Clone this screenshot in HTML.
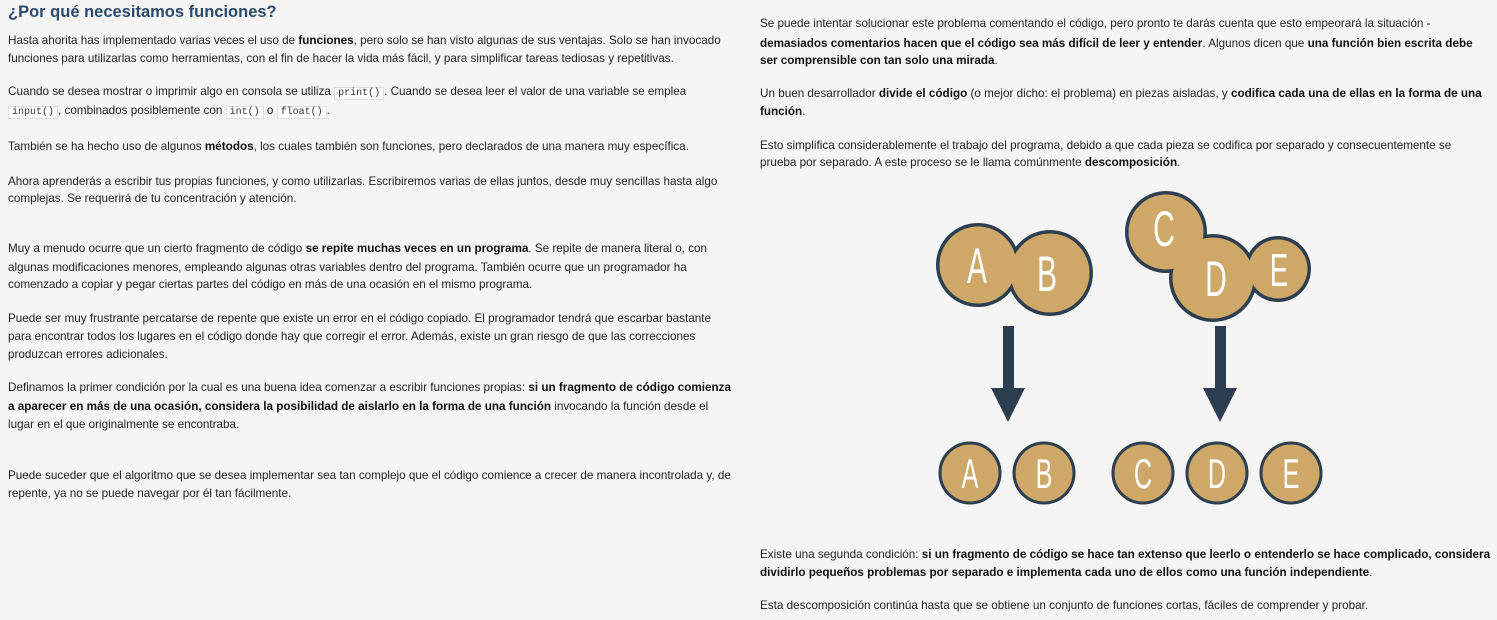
<!DOCTYPE html>
<html><head><meta charset="utf-8"><style>
body{margin:0;width:1497px;height:620px;background:#f5f5f5;overflow:hidden;font-family:"Liberation Sans",sans-serif;color:#222;}
.l{position:absolute;white-space:nowrap;font-size:11.7px;line-height:18px;}
b{font-weight:bold;color:#111}
code{font-family:"Liberation Mono",monospace;font-size:10px;background:#fff;border:1px solid #ddd;padding:0 3px;color:#333}
h1{position:absolute;left:8px;top:3px;margin:0;font-size:16.5px;color:#2b4a6b;font-weight:bold;white-space:nowrap}
</style></head><body>
<h1>¿Por qué necesitamos funciones?</h1>
<div class="l" style="left:8px;top:32px">Hasta ahorita has implementado varias veces el uso de <b>funciones</b>, pero solo se han visto algunas de sus ventajas. Solo se han invocado</div>
<div class="l" style="left:8px;top:50px">funciones para utilizarlas como herramientas, con el fin de hacer la vida más fácil, y para simplificar tareas tediosas y repetitivas.</div>
<div class="l" style="left:8px;top:83px">Cuando se desea mostrar o imprimir algo en consola se utiliza <code>print()</code>. Cuando se desea leer el valor de una variable se emplea</div>
<div class="l" style="left:8px;top:102px"><code>input()</code>, combinados posiblemente con <code>int()</code> o <code>float()</code>.</div>
<div class="l" style="left:8px;top:138px">También se ha hecho uso de algunos <b>métodos</b>, los cuales también son funciones, pero declarados de una manera muy específica.</div>
<div class="l" style="left:8px;top:173px">Ahora aprenderás a escribir tus propias funciones, y como utilizarlas. Escribiremos varias de ellas juntos, desde muy sencillas hasta algo</div>
<div class="l" style="left:8px;top:190px">complejas. Se requerirá de tu concentración y atención.</div>
<div class="l" style="left:8px;top:240px">Muy a menudo ocurre que un cierto fragmento de código <b>se repite muchas veces en un programa</b>. Se repite de manera literal o, con</div>
<div class="l" style="left:8px;top:259px">algunas modificaciones menores, empleando algunas otras variables dentro del programa. También ocurre que un programador ha</div>
<div class="l" style="left:8px;top:276px">comenzado a copiar y pegar ciertas partes del código en más de una ocasión en el mismo programa.</div>
<div class="l" style="left:8px;top:310px">Puede ser muy frustrante percatarse de repente que existe un error en el código copiado. El programador tendrá que escarbar bastante</div>
<div class="l" style="left:8px;top:328px">para encontrar todos los lugares en el código donde hay que corregir el error. Además, existe un gran riesgo de que las correcciones</div>
<div class="l" style="left:8px;top:346px">produzcan errores adicionales.</div>
<div class="l" style="left:8px;top:379px">Definamos la primer condición por la cual es una buena idea comenzar a escribir funciones propias: <b>si un fragmento de código comienza</b></div>
<div class="l" style="left:8px;top:398px"><b>a aparecer en más de una ocasión, considera la posibilidad de aislarlo en la forma de una función</b> invocando la función desde el</div>
<div class="l" style="left:8px;top:416px">lugar en el que originalmente se encontraba.</div>
<div class="l" style="left:8px;top:467px">Puede suceder que el algoritmo que se desea implementar sea tan complejo que el código comience a crecer de manera incontrolada y, de</div>
<div class="l" style="left:8px;top:485px">repente, ya no se puede navegar por él tan fácilmente.</div>

<div class="l" style="left:760px;top:15px">Se puede intentar solucionar este problema comentando el código, pero pronto te darás cuenta que esto empeorará la situación -</div>
<div class="l" style="left:760px;top:35px"><b>demasiados comentarios hacen que el código sea más difícil de leer y entender</b>. Algunos dicen que <b>una función bien escrita debe</b></div>
<div class="l" style="left:760px;top:52px"><b>ser comprensible con tan solo una mirada</b>.</div>
<div class="l" style="left:760px;top:85px">Un buen desarrollador <b>divide el código</b> (o mejor dicho: el problema) en piezas aisladas, y <b>codifica cada una de ellas en la forma de una</b></div>
<div class="l" style="left:760px;top:103px"><b>función</b>.</div>
<div class="l" style="left:760px;top:137px">Esto simplifica considerablemente el trabajo del programa, debido a que cada pieza se codifica por separado y consecuentemente se</div>
<div class="l" style="left:760px;top:154px">prueba por separado. A este proceso se le llama comúnmente <b>descomposición</b>.</div>
<div class="l" style="left:760px;top:546px">Existe una segunda condición: <b>si un fragmento de código se hace tan extenso que leerlo o entenderlo se hace complicado, considera</b></div>
<div class="l" style="left:760px;top:564px"><b>dividirlo pequeños problemas por separado e implementa cada uno de ellos como una función independiente</b>.</div>
<div class="l" style="left:760px;top:597px">Esta descomposición continúa hasta que se obtiene un conjunto de funciones cortas, fáciles de comprender y probar.</div>

<svg style="position:absolute;left:0;top:0" width="1497" height="620">
<g fill="#2c3e50">
<circle cx="978" cy="265" r="42"/><circle cx="1050" cy="273" r="43"/>
<circle cx="1166" cy="232" r="41"/><circle cx="1213" cy="278" r="44"/><circle cx="1278" cy="269" r="33"/>
</g>
<g fill="#cda869">
<circle cx="978" cy="265" r="38.5"/><circle cx="1050" cy="273" r="39.5"/>
<circle cx="1166" cy="232" r="37.5"/><circle cx="1213" cy="278" r="40.5"/><circle cx="1278" cy="269" r="29.5"/>
</g>
<g fill="#cda869" stroke="#2c3e50" stroke-width="3">
<circle cx="970" cy="473" r="30"/><circle cx="1044" cy="473" r="30"/>
<circle cx="1143" cy="473" r="30"/><circle cx="1217" cy="473" r="30"/><circle cx="1291" cy="473" r="30"/>
</g>
<g fill="#2c3e50">
<rect x="1003" y="326" width="11" height="64"/><polygon points="991,388 1025,388 1008,422"/>
<rect x="1215" y="326" width="11" height="64"/><polygon points="1203,388 1237,388 1220,422"/>
</g>
<g fill="#fff" font-family="Liberation Sans, sans-serif" text-anchor="middle">
<text transform="translate(977,283) scale(0.6,1)" font-size="50">A</text>
<text transform="translate(1047,291) scale(0.6,1)" font-size="50">B</text>
<text transform="translate(1164,246) scale(0.6,1)" font-size="50">C</text>
<text transform="translate(1216,296) scale(0.6,1)" font-size="50">D</text>
<text transform="translate(1279,286) scale(0.6,1)" font-size="46">E</text>
<text transform="translate(970,488) scale(0.6,1)" font-size="42">A</text>
<text transform="translate(1044,488) scale(0.6,1)" font-size="42">B</text>
<text transform="translate(1143,488) scale(0.6,1)" font-size="42">C</text>
<text transform="translate(1217,488) scale(0.6,1)" font-size="42">D</text>
<text transform="translate(1291,488) scale(0.6,1)" font-size="42">E</text>
</g>
</svg>
</body></html>
